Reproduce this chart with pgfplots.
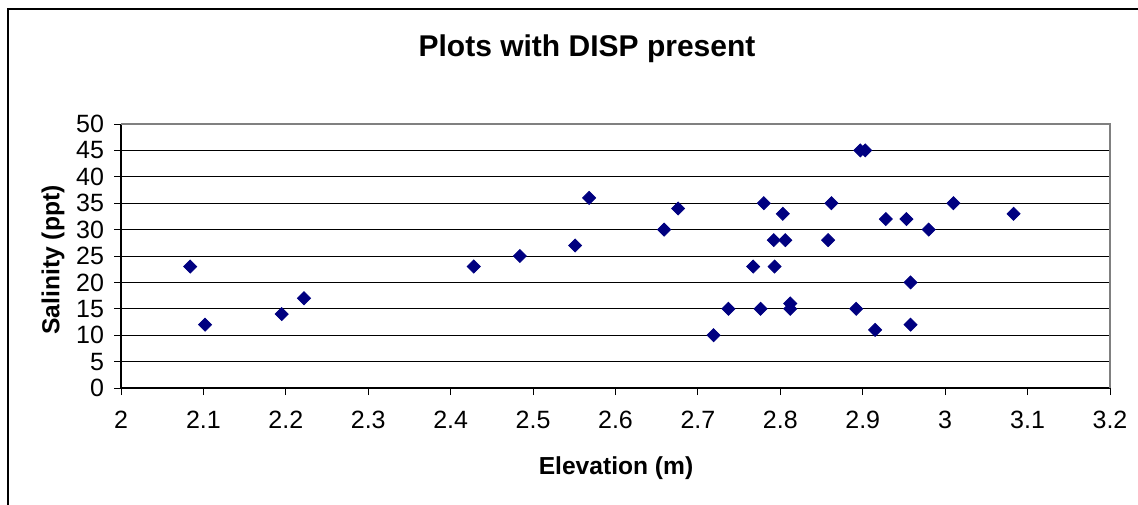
\documentclass[border=0pt]{standalone}
\usepackage{fontspec}
\setmainfont{Liberation Sans}
\usepackage{pgfplots}
\pgfplotsset{compat=1.18}
\definecolor{navy}{RGB}{0,0,128}
\definecolor{frgray}{RGB}{128,128,128}
\begin{document}
\begin{tikzpicture}
\useasboundingbox (-60.5pt,-58pt) rectangle (508.5pt,194pt);
\draw[black, line width=1pt] (-56.5pt,-60pt) -- (-56.5pt,189.5pt) -- (510pt,189.5pt);
\begin{axis}[
  at={(0,0)}, anchor=south west,
  scale only axis, width=494.5pt, height=132pt,
  xmin=2, xmax=3.2, ymin=0, ymax=50,
  axis lines=left, axis line style={-, black, line width=0.6pt},
  xtick={2,2.1,2.2,2.3,2.4,2.5,2.6,2.7,2.8,2.9,3,3.1,3.2},
  ytick={0,5,10,15,20,25,30,35,40,45,50},
  tick align=outside, major tick length=3.5pt,
  tick style={black, line width=0.5pt},
  ymajorgrids, grid style={black, line width=0.5pt},
  /pgf/number format/assume math mode=true,
  ticklabel style={font=\fontsize{12.5}{14}\selectfont},
  xticklabel style={yshift=-4.5pt},
  yticklabel style={xshift=-1.5pt},
  clip=false,
]
\draw[frgray, line width=1pt] (rel axis cs:0,1) -- (rel axis cs:1,1) -- (rel axis cs:1,0);
\addplot[only marks, mark=square*, mark size=2.3pt, mark options={rotate=45, fill=navy, draw=navy}] coordinates {
(2.084,23) (2.102,12) (2.195,14) (2.222,17) (2.428,23) (2.484,25) (2.551,27)
(2.568,36) (2.659,30) (2.676,34) (2.719,10) (2.737,15) (2.767,23) (2.776,15)
(2.780,35) (2.792,28) (2.793,23) (2.803,33) (2.806,28) (2.812,16) (2.812,15)
(2.858,28) (2.862,35) (2.892,15) (2.897,45) (2.903,45) (2.915,11) (2.928,32)
(2.953,32) (2.958,20) (2.958,12) (2.980,30) (3.010,35) (3.083,33)
};
\end{axis}
\node[font=\fontsize{15}{17}\selectfont\bfseries] at (233pt,169.5pt) {Plots with DISP present};
\node[font=\fontsize{12.3}{14}\selectfont\bfseries, rotate=90] at (-34pt,64pt) {Salinity (ppt)};
\node[font=\fontsize{12.3}{14}\selectfont\bfseries] at (247.5pt,-40pt) {Elevation (m)};
\end{tikzpicture}
\end{document}
